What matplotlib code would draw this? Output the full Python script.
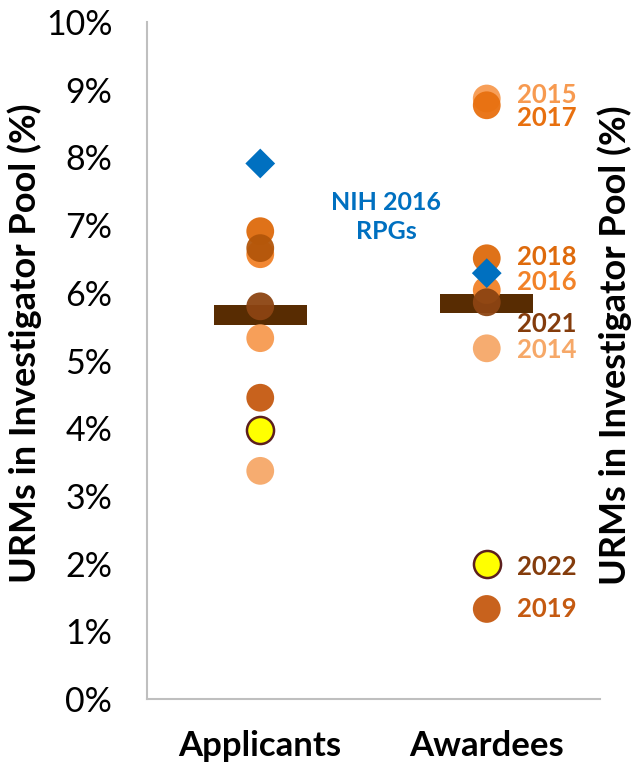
import matplotlib
matplotlib.use("Agg")
import matplotlib.pyplot as plt

# ---- data ----
categories = ["Applicants", "Awardees"]
years = ["2014", "2015", "2016", "2018", "2017", "2019", "2021", "2022"]
applicants = [3.37, 5.33, 6.57, 6.91, 6.66, 4.45, 5.80, 3.98]
awardees = [5.18, 8.87, 6.04, 6.51, 8.77, 1.33, 5.86, 2.00]
nih_2016_rpgs = [7.91, 6.29]
group_means = [5.67, 5.84]
yticks = list(range(0, 11))

# ---- styles ----
year_colors = {
    "2014": "#F6A868",
    "2015": "#F79A50",
    "2016": "#F28228",
    "2017": "#E8700F",
    "2018": "#DE6A0C",
    "2019": "#C55A11",
    "2021": "#8C4412",
    "2022": "#FFFF00",
}
app_colors = [year_colors[y] for y in years]
app_colors[4] = "#B3560A"  # darker shade seen for this point
label_dy_px = {"2014": 2, "2015": -4, "2016": -8, "2017": 13, "2018": -1,
               "2019": 0, "2021": 22, "2022": 3}

font = "Lato"
fig = plt.figure(figsize=(6.39, 7.68), dpi=100)
W, H = 639, 768
ax = fig.add_axes([147 / W, (H - 699) / H, 453 / W, (699 - 22) / H])
ax.set_xlim(-0.5, 1.5)
ax.set_ylim(0, 10)

# mean bars
ax.bar([0, 1], [0.29, 0.29], bottom=[m - 0.145 for m in group_means],
       width=0.41, color="#582C02", zorder=2)

def draw_points(xpos, vals, cols):
    for v, c, y in zip(vals, cols, years):
        if y == "2022":
            ax.scatter([xpos], [v], s=380, color=c, edgecolor="#5C1F1F",
                       linewidth=1.8, zorder=3)
        else:
            ax.scatter([xpos], [v], s=400, color=c, edgecolor="none",
                       alpha=0.95, zorder=3)

draw_points(0, applicants, app_colors)
draw_points(1, awardees, [year_colors[y] for y in years])

# NIH diamonds
ax.scatter([0, 1], nih_2016_rpgs, marker="D", s=230, color="#0070C0",
           edgecolor="none", zorder=4)

ax.text(0.555, 7.12, "NIH 2016\nRPGs", color="#0070C0", fontsize=18,
        fontweight="bold", family=font, ha="center", va="center",
        linespacing=1.35)

# year labels next to awardees
for v, y in zip(awardees, years):
    ax.annotate(y, xy=(1, v), xytext=(21.5, -label_dy_px[y] * 0.72),
                textcoords="offset points", ha="left", va="center",
                color=("#843C0C" if y in ("2021", "2022") else year_colors[y]),
                fontsize=18.5, fontweight="bold", family=font)

# axes styling
for s in ["top", "right"]:
    ax.spines[s].set_visible(False)
for s in ["left", "bottom"]:
    ax.spines[s].set_color("#BFBFBF")
    ax.spines[s].set_linewidth(1.5)
ax.set_yticks(yticks)
ax.set_yticklabels([f"{t}%" for t in yticks], family=font, fontsize=24.5)
ax.tick_params(axis="y", length=0, pad=25)
ax.set_xticks([0, 1])
ax.set_xticklabels(categories, family=font, fontsize=25, fontweight="bold")
ax.tick_params(axis="x", length=0, pad=22)
fig.text(25 / W, 0.5 + (H / 2 - 343) / H, "URMs in Investigator Pool (%)",
         rotation=90, family=font, fontsize=26, fontweight="bold",
         ha="center", va="center")
fig.text(615 / W, 0.5 + (H / 2 - 345) / H, "URMs in Investigator Pool (%)",
         rotation=90, family=font, fontsize=26, fontweight="bold",
         ha="center", va="center")

fig.savefig("out.png", dpi=100)
